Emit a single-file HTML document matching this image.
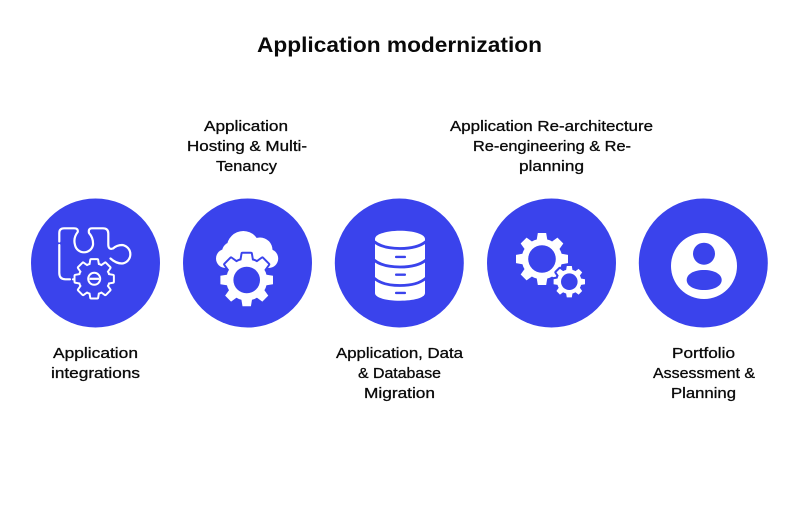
<!DOCTYPE html>
<html>
<head>
<meta charset="utf-8">
<style>
html,body{margin:0;padding:0;background:#fff;width:800px;height:519px;overflow:hidden}
svg{display:block}
text{font-family:"Liberation Sans",sans-serif;fill:#0a0a0a}
.t{font-size:21px;font-weight:bold}
.l{font-size:14.5px;stroke:#0a0a0a;stroke-width:.3px}
</style>
</head>
<body>
<svg width="800" height="519" viewBox="0 0 800 519" xmlns="http://www.w3.org/2000/svg">
<defs>
<path id="tooth" d="M-21 -70L-16 -100H16L21 -70Z"/>
<g id="gear">
<circle r="78"/>
<use href="#tooth"/>
<use href="#tooth" transform="rotate(45)"/>
<use href="#tooth" transform="rotate(90)"/>
<use href="#tooth" transform="rotate(135)"/>
<use href="#tooth" transform="rotate(180)"/>
<use href="#tooth" transform="rotate(225)"/>
<use href="#tooth" transform="rotate(270)"/>
<use href="#tooth" transform="rotate(315)"/>
</g>
</defs>
<rect width="800" height="519" fill="#fff"/>
<text class="t" x="257" y="52" textLength="285" lengthAdjust="spacingAndGlyphs">Application modernization</text>

<text class="l" x="204" y="131" textLength="84" lengthAdjust="spacingAndGlyphs">Application</text>
<text class="l" x="187" y="151" textLength="120" lengthAdjust="spacingAndGlyphs">Hosting &amp; Multi-</text>
<text class="l" x="216" y="171" textLength="61" lengthAdjust="spacingAndGlyphs">Tenancy</text>

<text class="l" x="450" y="131" textLength="203" lengthAdjust="spacingAndGlyphs">Application Re-architecture</text>
<text class="l" x="473" y="151" textLength="158" lengthAdjust="spacingAndGlyphs">Re-engineering &amp; Re-</text>
<text class="l" x="519" y="171" textLength="65" lengthAdjust="spacingAndGlyphs">planning</text>

<text class="l" x="53" y="358" textLength="85" lengthAdjust="spacingAndGlyphs">Application</text>
<text class="l" x="51" y="378" textLength="89" lengthAdjust="spacingAndGlyphs">integrations</text>

<text class="l" x="336" y="358" textLength="127" lengthAdjust="spacingAndGlyphs">Application, Data</text>
<text class="l" x="358" y="378" textLength="83" lengthAdjust="spacingAndGlyphs">&amp; Database</text>
<text class="l" x="364" y="398" textLength="71" lengthAdjust="spacingAndGlyphs">Migration</text>

<text class="l" x="672" y="358" textLength="63" lengthAdjust="spacingAndGlyphs">Portfolio</text>
<text class="l" x="653" y="378" textLength="102" lengthAdjust="spacingAndGlyphs">Assessment &amp;</text>
<text class="l" x="671" y="398" textLength="65" lengthAdjust="spacingAndGlyphs">Planning</text>

<g fill="#3a43ec">
<circle cx="95.5" cy="263" r="64.5"/>
<circle cx="247.5" cy="263" r="64.5"/>
<circle cx="399.3" cy="263" r="64.5"/>
<circle cx="551.5" cy="263" r="64.5"/>
<circle cx="703.3" cy="263" r="64.5"/>
</g>

<!-- Puzzle + outline gear -->
<g fill="none" stroke="#fff" stroke-width="2.2" stroke-linecap="round" stroke-linejoin="round">
<path d="M59.3 241.5V233Q59.3 228.3 64 228.3H74Q78.5 228.3 77.7 232Q73 238 75 245A9.2 9.2 0 0 0 93 245Q93.5 238 89 233Q88 228.3 92 228.3H103Q108.3 228.3 108.3 233.5V245Q108.5 250 113 248.500Q117 245 122 245A9.300 9.300 0 0 1 122 263.500Q116 263.500 110.500 258.500"/>
<path d="M59.3 245V273Q59.3 279.300 65.500 279.300H70"/>
<path d="M73 279.300H73.500"/>
</g>
<use href="#gear" transform="translate(94.2 278.8) scale(.187)" fill="#fff" stroke="#fff" stroke-width="21" stroke-linejoin="round"/>
<use href="#gear" transform="translate(94.2 278.8) scale(.187)" fill="#3a43ec"/>
<circle cx="94.200" cy="278.800" r="6" fill="none" stroke="#fff" stroke-width="2"/>
<rect x="89.500" y="277.700" width="9.500" height="2.200" fill="#fff"/>

<!-- Cloud + gear -->
<g fill="#fff">
<circle cx="243.300" cy="247.500" r="16.500"/>
<circle cx="260" cy="250" r="12.500"/>
<circle cx="225.500" cy="258.500" r="9.500"/>
<circle cx="268.700" cy="258.500" r="9.500"/>
<circle cx="232" cy="252" r="10"/>
<rect x="225.500" y="250" width="43" height="18"/>
</g>
<use href="#gear" transform="translate(246.700 280) scale(.263)" fill="#3a43ec" stroke="#3a43ec" stroke-width="15" stroke-linejoin="round"/>
<use href="#gear" transform="translate(246.700 280) scale(.263)" fill="#fff"/>
<circle cx="246.700" cy="280" r="13.300" fill="#3a43ec"/>

<!-- Database -->
<path d="M375 239C375 234 387 230.700 400 230.700C413 230.700 425 234 425 239V293C425 298 413 300.700 400 300.700C387 300.700 375 298 375 293Z" fill="#fff"/>
<g fill="none" stroke="#3a43ec" stroke-width="2.800">
<path d="M374 241.500C380 246.500 390 248.500 400 248.500C410 248.500 420 246.500 426 241.500"/>
<path d="M374 260C380 265 390 267 400 267C410 267 420 265 426 260"/>
<path d="M374 278C380 283.500 390 285.500 400 285.500C410 285.500 420 283.500 426 278"/>
</g>
<g fill="#3a43ec">
<rect x="395" y="255.700" width="11" height="2.400" rx="1"/>
<rect x="395" y="273.500" width="11" height="2.400" rx="1"/>
<rect x="395" y="291.700" width="11" height="2.400" rx="1"/>
</g>

<!-- Gears -->
<use href="#gear" transform="translate(542 259) scale(.26)" fill="#fff"/>
<circle cx="542" cy="259" r="13.800" fill="#3a43ec"/>
<use href="#gear" transform="translate(569.300 281.700) scale(.157)" fill="#3a43ec" stroke="#3a43ec" stroke-width="26" stroke-linejoin="round"/>
<use href="#gear" transform="translate(569.300 281.700) scale(.157)" fill="#fff"/>
<circle cx="569.300" cy="281.700" r="8.300" fill="#3a43ec"/>

<!-- Person -->
<circle cx="704" cy="266" r="33" fill="#fff"/>
<circle cx="704" cy="253.700" r="11" fill="#3a43ec"/>
<path d="M686.700 280C686.700 274 694 270 704 270C714 270 721.700 274 721.700 280C721.700 286 714 290 704 290C694 290 686.700 286 686.700 280Z" fill="#3a43ec"/>
</svg>
</body>
</html>
